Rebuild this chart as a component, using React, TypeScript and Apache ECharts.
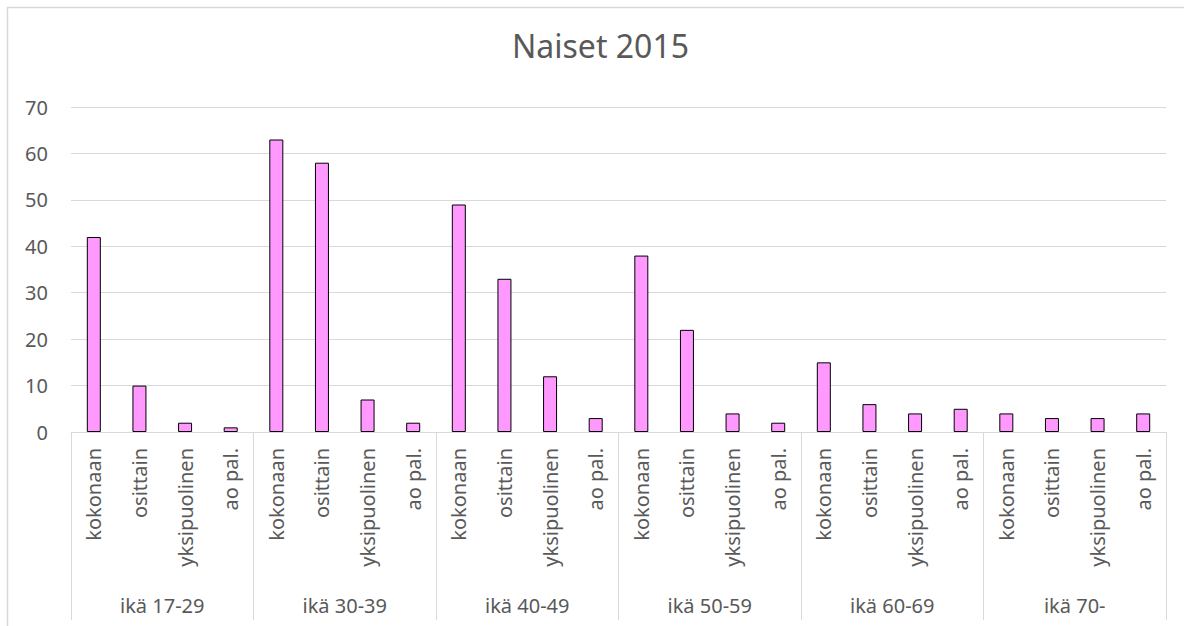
import React, { useEffect, useRef } from "react";
import * as echarts from "echarts";

const groups = ["ikä 17-29", "ikä 30-39", "ikä 40-49", "ikä 50-59", "ikä 60-69", "ikä 70-"];
const subCategories = ["kokonaan", "osittain", "yksipuolinen", "ao pal."];
const age17_29 = [42, 10, 2, 1];
const age30_39 = [63, 58, 7, 2];
const age40_49 = [49, 33, 12, 3];
const age50_59 = [38, 22, 4, 2];
const age60_69 = [15, 6, 4, 5];
const age70 = [4, 3, 3, 4];
const yTicks = { min: 0, max: 70, interval: 10 };

const FONT = "'Noto Sans', sans-serif";
const TXT = "#595959";
const GRID = "#d9d9d9";

export default function App() {
  const ref = useRef<HTMLDivElement>(null);
  useEffect(() => {
    document.documentElement.style.overflow = "hidden";
    document.body.style.overflow = "hidden";
    document.body.style.margin = "0";
    if (!ref.current) return;
    const chart = echarts.init(ref.current, undefined, { renderer: "svg" });
    const cats = groups.flatMap(() => subCategories);
    const values = [age17_29, age30_39, age40_49, age50_59, age60_69, age70].flat();
    chart.setOption({
      animation: false,
      backgroundColor: "#fff",
      title: {
        text: "Naiset 2015",
        left: 512,
        top: 29,
        padding: 0,
        textStyle: { color: TXT, fontFamily: FONT, fontSize: 32, fontWeight: "normal" },
      },
      graphic: [
        { type: "line", shape: { x1: 7, y1: 7.5, x2: 1184, y2: 7.5 }, style: { stroke: GRID, lineWidth: 1.5 } },
        { type: "line", shape: { x1: 7.5, y1: 7, x2: 7.5, y2: 626 }, style: { stroke: GRID, lineWidth: 1.5 } },
      ],
      grid: { left: 71, right: 18, top: 107, bottom: 194 },
      xAxis: [
        {
          type: "category",
          data: cats,
          position: "bottom",
          axisLine: { show: true, lineStyle: { color: GRID, width: 1 } },
          axisTick: { show: false },
          axisLabel: {
            interval: 0,
            rotate: 90,
            margin: 16,
            color: TXT,
            fontFamily: FONT,
            fontSize: 20,
          },
        },
        {
          type: "category",
          data: groups,
          position: "bottom",
          axisLine: { show: false },
          axisTick: { show: true, interval: 0, length: 188, lineStyle: { color: GRID, width: 1 } },
          axisLabel: { interval: 0, margin: 163, color: TXT, fontFamily: FONT, fontSize: 20 },
        },
      ],
      yAxis: {
        type: "value",
        min: yTicks.min,
        max: yTicks.max,
        interval: yTicks.interval,
        axisLine: { show: false },
        axisTick: { show: false },
        splitLine: { lineStyle: { color: GRID, width: 1 } },
        axisLabel: { color: TXT, fontFamily: FONT, fontSize: 20, margin: 23 },
      },
      series: [
        {
          type: "bar",
          xAxisIndex: 0,
          data: values,
          barWidth: 14,
          itemStyle: { color: "#FF99FF", borderColor: "#000", borderWidth: 1 },
        },
      ],
    });
    return () => chart.dispose();
  }, []);
  return <div ref={ref} style={{ position: "fixed", left: 0, top: 0, width: 1184, height: 626 }} />;
}
